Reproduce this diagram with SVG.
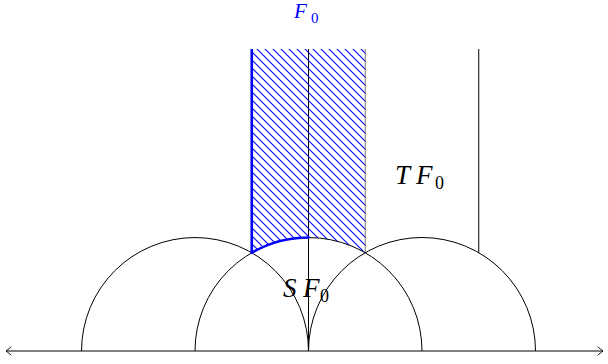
<svg xmlns="http://www.w3.org/2000/svg" width="608" height="364" viewBox="0 0 608 364">
<style>
.ln{fill:none;stroke:#000;stroke-width:1}
.bl{fill:none;stroke:#0000ff;stroke-width:2.6}
.lab{font-family:"Liberation Serif","Times New Roman",serif;font-style:italic;fill:#000}
.sub{font-style:normal}
</style>
<defs>
<pattern id="hatch" patternUnits="userSpaceOnUse" width="8" height="8">
<path d="M-2,-2 L10,10 M-2,6 L2,10 M6,-2 L10,2" stroke="#0000ff" stroke-width="1.1"/>
</pattern>
<marker id="arr" markerUnits="userSpaceOnUse" markerWidth="12" markerHeight="12" refX="0" refY="0" viewBox="-8 -6 10 12" orient="auto-start-reverse">
<path d="M-5,-4 Q-1.5,-1 0,0 Q-1.5,1 -5,4" fill="none" stroke="#000" stroke-width="0.9" stroke-linecap="round"/>
</marker>
</defs>
<g id="F0-region">
<path d="M251.75,49 L365.25,49 L365.25,252.7 A113.5,113.5 0 0 0 251.75,252.7 Z" fill="url(#hatch)"/>
<line x1="365.25" y1="49" x2="365.25" y2="252.7" stroke="#555" stroke-width="0.8"/>
</g>
<g id="connectors">
<line class="ln" x1="6" y1="351" x2="603" y2="351" marker-start="url(#arr)" marker-end="url(#arr)"/>
<path class="ln" d="M81.5,351 A113.5,113.5 0 0 1 308.5,351"/>
<path class="ln" d="M195,351 A113.5,113.5 0 0 1 422,351"/>
<path class="ln" d="M308.5,351 A113.5,113.5 0 0 1 535.5,351"/>
<line class="ln" x1="308.5" y1="49" x2="308.5" y2="351"/>
<line class="ln" x1="478.75" y1="49" x2="478.75" y2="252.7"/>
</g>
<g id="F0-boundary">
<line class="bl" x1="251.75" y1="49" x2="251.75" y2="252.7"/>
<path class="bl" d="M251.75,252.7 A113.5,113.5 0 0 1 308.5,237.5" stroke-linecap="round"/>
</g>
<g id="label-F0">
<text class="lab" x="294" y="18" font-size="21" style="fill:#0000ff">F<tspan class="sub" x="311" y="23" font-size="15">0</tspan></text>
</g>
<g id="label-TF0">
<text class="lab" x="395" y="184" font-size="27">T<tspan x="416">F</tspan><tspan class="sub" x="435" y="189" font-size="18">0</tspan></text>
</g>
<g id="label-SF0">
<text class="lab" x="283" y="297" font-size="27">S<tspan x="303">F</tspan><tspan class="sub" x="320" y="302" font-size="18">0</tspan></text>
</g>
</svg>
